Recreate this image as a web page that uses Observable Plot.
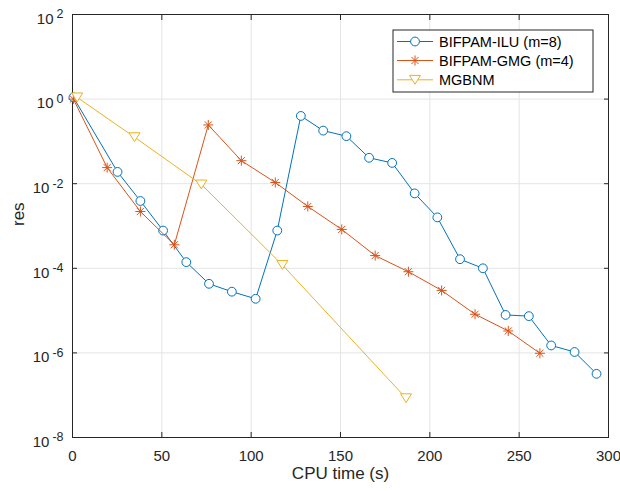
<!DOCTYPE html>
<html>
<head>
<meta charset="utf-8">
<script src="https://cdn.jsdelivr.net/npm/d3@7"></script>
<script src="https://cdn.jsdelivr.net/npm/@observablehq/plot@0.6"></script>
<style>
  html, body { margin: 0; padding: 0; background: white; }
  #chart { width: 620px; height: 491px; position: relative; }
</style>
</head>
<body>
<div id="chart"></div>
<script>
// ---- data ----
const iluX = [0.5, 25.2, 38, 50.7, 63.7, 76.4, 89.2, 102.5, 114.6, 127.8, 140.3, 153.3, 166, 178.9, 191.5, 204.2, 216.9, 229.7, 242.4, 255.4, 267.9, 281, 293.3];
const iluY = [1.1, 0.019, 0.0039, 7.8e-4, 1.4e-4, 4.3e-5, 2.8e-5, 1.9e-5, 7.8e-4, 0.40, 0.18, 0.133, 0.041, 0.031, 0.0059, 0.0016, 1.64e-4, 1.0e-4, 7.9e-6, 7.4e-6, 1.5e-6, 1.05e-6, 3.2e-7];

const gmgX = [0.5, 19.4, 38, 57, 76, 94.5, 113.5, 131.7, 150.7, 169.4, 188, 206.6, 225.3, 243.9, 261.6];
const gmgY = [1.0, 0.024, 0.0022, 3.6e-4, 0.245, 0.035, 0.0107, 0.0029, 8.3e-4, 2.0e-4, 8.3e-5, 3.0e-5, 8.2e-6, 3.3e-6, 9.8e-7];

const mgbX = [2.6, 34.7, 72.1, 117.5, 186.7];
const mgbY = [1.1, 0.126, 0.0096, 1.2e-4, 8.5e-8];

const seriesNames = ["BIFPAM-ILU (m=8)", "BIFPAM-GMG (m=4)", "MGBNM"];
const seriesColors = ["#0072BD", "#D95319", "#EDB120"];

const xTicks = [0, 50, 100, 150, 200, 250, 300];
const yTicks = [1e-8, 1e-6, 1e-4, 1e-2, 1e0, 1e2];
const xLabel = "CPU time (s)";
const yLabel = "res";

// ---- tables ----
const toRows = (xs, ys) => xs.map((x, i) => ({x, y: ys[i]}));
const ilu = toRows(iluX, iluY);
const gmg = toRows(gmgX, gmgY);
const mgb = toRows(mgbX, mgbY);

// ---- custom MATLAB-like symbols ----
const asterisk8 = {
  draw(ctx, size) {
    const r = Math.sqrt(size / Math.PI);
    const d = r * Math.SQRT1_2;
    ctx.moveTo(-r, 0); ctx.lineTo(r, 0);
    ctx.moveTo(0, -r); ctx.lineTo(0, r);
    ctx.moveTo(-d, -d); ctx.lineTo(d, d);
    ctx.moveTo(-d, d); ctx.lineTo(d, -d);
  }
};
const triangleDown = {
  draw(ctx, size) {
    const r = Math.sqrt(size / Math.PI);
    ctx.moveTo(-r, -0.8 * r);
    ctx.lineTo(r, -0.8 * r);
    ctx.lineTo(0, 0.8 * r);
    ctx.closePath();
  }
};
const circleSym = {
  draw(ctx, size) {
    const r = Math.sqrt(size / Math.PI);
    ctx.moveTo(r, 0);
    ctx.arc(0, 0, r, 0, 2 * Math.PI);
  }
};

const gridColor = "#e4e4e4";
const axisColor = "#262626";

const chart = Plot.plot({
  width: 620,
  height: 491,
  marginLeft: 72,
  marginRight: 12,
  marginTop: 14,
  marginBottom: 54,
  style: {
    fontFamily: "'Liberation Sans', Arial, Helvetica, sans-serif",
    fontSize: "15px",
    color: axisColor,
    background: "white",
    overflow: "visible"
  },
  x: {domain: [0, 300]},
  y: {type: "log", domain: [1e-8, 1e2]},
  marks: [
    Plot.gridX(xTicks, {stroke: gridColor, strokeOpacity: 1}),
    Plot.gridY(yTicks, {stroke: gridColor, strokeOpacity: 1}),
    Plot.axisX(xTicks, {anchor: "bottom", tickSize: -5, tickPadding: 18, label: null, tickFormat: d => String(d), stroke: axisColor}),
    Plot.axisX(xTicks, {anchor: "top", tickSize: -5, label: null, tickFormat: () => "", stroke: axisColor}),
    Plot.axisY(yTicks, {anchor: "left", tickSize: -5, tickPadding: 14, label: null, tickFormat: d => "10^" + Math.round(Math.log10(d)), stroke: axisColor}),
    Plot.axisY(yTicks, {anchor: "right", tickSize: -5, label: null, tickFormat: () => "", stroke: axisColor}),
    Plot.frame({stroke: axisColor, strokeWidth: 1}),
    Plot.text([xLabel], {frameAnchor: "bottom", dy: 41, fontSize: 17, fill: axisColor}),
    Plot.text([yLabel], {frameAnchor: "left", dx: -54, rotate: -90, fontSize: 17, fill: axisColor}),

    Plot.line(ilu, {x: "x", y: "y", stroke: seriesColors[0], strokeWidth: 1}),
    Plot.dot(ilu, {x: "x", y: "y", r: 4.4, symbol: "circle", stroke: seriesColors[0], fill: "white", strokeWidth: 1}),

    Plot.line(gmg, {x: "x", y: "y", stroke: seriesColors[1], strokeWidth: 1}),
    Plot.dot(gmg, {x: "x", y: "y", r: 5, symbol: asterisk8, stroke: seriesColors[1], fill: "none", strokeWidth: 1}),

    Plot.line(mgb, {x: "x", y: "y", stroke: seriesColors[2], strokeWidth: 1}),
    Plot.dot(mgb, {x: "x", y: "y", r: 5.5, symbol: triangleDown, stroke: seriesColors[2], fill: "white", strokeWidth: 1})
  ]
});

document.getElementById("chart").appendChild(chart);

// ---- superscript tick labels (10^n) ----
d3.select(chart).selectAll("text").each(function() {
  const t = this.textContent;
  if (/^10\^-?\d+$/.test(t)) {
    const exp = t.split("^")[1];
    const sel = d3.select(this);
    sel.text(null);
    sel.append("tspan").attr("dy", "0.3em").text("10");
    sel.append("tspan").attr("dx", 3).attr("dy", -5.5).attr("font-size", 12.5).text(exp);
  }
});

// ---- legend (inside plot, top right) ----
const svg = d3.select(chart);
const lg = svg.append("g").attr("class", "legend").attr("text-anchor", "start");
const box = {x: 393, y: 30, w: 200, h: 62};
lg.append("rect")
  .attr("x", box.x).attr("y", box.y).attr("width", box.w).attr("height", box.h)
  .attr("fill", "white").attr("stroke", axisColor).attr("stroke-width", 1);
const symbols = [circleSym, asterisk8, triangleDown];
const rs = [4.4, 5, 5.5];
const fills = ["white", "none", "white"];
const rowY = [41.5, 60.5, 79.8];
seriesNames.forEach((name, i) => {
  const y = rowY[i];
  lg.append("line").attr("x1", 397).attr("x2", 433).attr("y1", y).attr("y2", y)
    .attr("stroke", seriesColors[i]).attr("stroke-width", 1);
  const p = d3.path();
  symbols[i].draw(p, Math.PI * rs[i] * rs[i]);
  lg.append("path")
    .attr("transform", `translate(415,${y})`)
    .attr("d", p.toString())
    .attr("fill", fills[i]).attr("stroke", seriesColors[i]).attr("stroke-width", 1);
  lg.append("text").attr("x", 439).attr("y", y).attr("dy", "0.35em")
    .attr("text-anchor", "start")
    .attr("font-size", 14.5).attr("fill", "#000").text(name);
});
</script>
</body>
</html>
